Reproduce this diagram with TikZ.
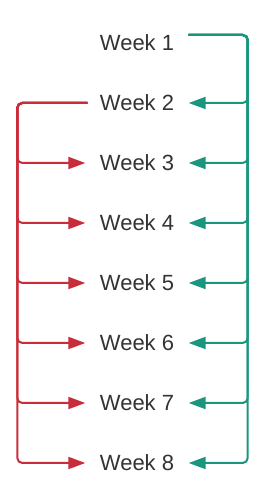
\documentclass[tikz,border=0pt]{standalone}
\usepackage{fontspec}
\setmainfont{Liberation Sans}
\usepackage{xcolor}
\usetikzlibrary{arrows.meta}

\definecolor{weekgreen}{HTML}{19967D}
\definecolor{weekred}{HTML}{C92D39}
\definecolor{weektext}{HTML}{333333}

\tikzset{
  week/.style = {minimum width = 103pt, inner sep = 0pt, text = weektext,
                 font = \fontsize{22}{26}\selectfont},
  greenlink/.style = {draw = weekgreen, line width = 2pt, rounded corners = 5pt,
                      -{Triangle[length = 17pt, width = 12pt]}},
  redlink/.style = {draw = weekred, line width = 2pt, rounded corners = 5pt,
                    -{Triangle[length = 17pt, width = 12pt]}}
}

\begin{document}
\begin{tikzpicture}[x = 1pt, y = 1pt]

    \useasboundingbox (0,0) rectangle (268,502);

    \foreach \i in {1,...,8}
    \node[week] (w\i) at (137, {459 - 60*(\i-1)}) {Week \i};

    % green trunk on the right
    \coordinate (gstart) at ([yshift = 8pt]w1.east);
    \foreach \i in {2,...,8}
    \draw[greenlink] (gstart) -- ++(59,0) |- (w\i.east);

    % red trunk on the left
    \coordinate (rstart) at ([xshift = 2pt]w2.west);
    \foreach \i in {3,...,8}
    \draw[redlink] (rstart) -- ++(-70,0) |- (w\i.west);

\end{tikzpicture}
\end{document}
